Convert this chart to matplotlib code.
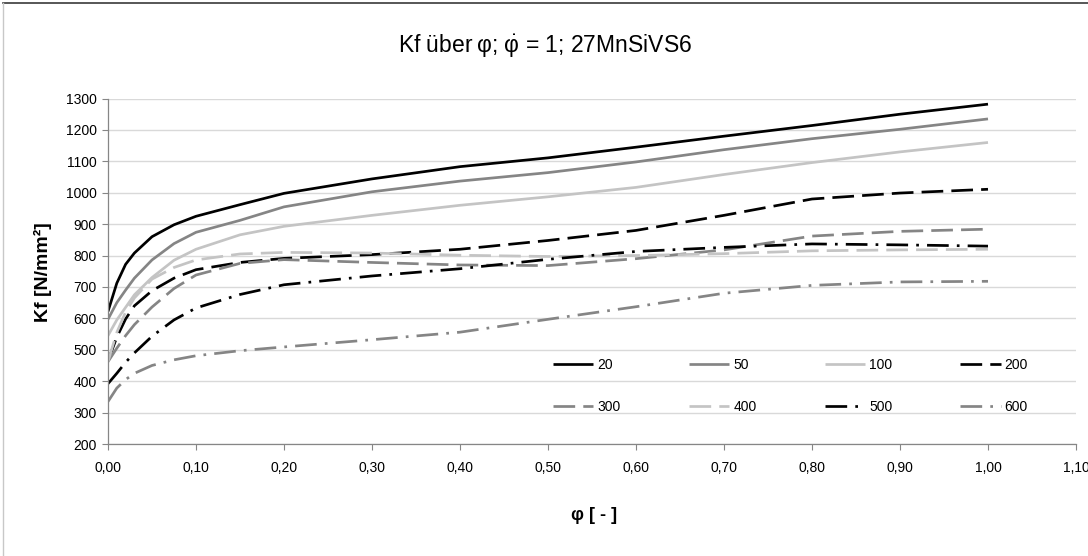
import matplotlib
matplotlib.use("Agg")
import matplotlib.pyplot as plt
from matplotlib.lines import Line2D

plt.rcParams['font.family'] = ['Liberation Sans', 'DejaVu Sans']
plt.rcParams['mathtext.fontset'] = 'custom'
plt.rcParams['mathtext.rm'] = 'Liberation Sans'
plt.rcParams['mathtext.it'] = 'Liberation Sans:italic'
plt.rcParams['mathtext.bf'] = 'Liberation Sans:bold'

# ---- data -------------------------------------------------------------
phi = [0.0, 0.01, 0.02, 0.03, 0.05, 0.075, 0.1, 0.15, 0.2, 0.3, 0.4,
       0.5, 0.6, 0.7, 0.8, 0.9, 1.0]

kf_20 = [622, 712, 772, 808, 860, 898, 925, 962, 998, 1044, 1083,
         1111, 1145, 1180, 1214, 1250, 1282]
kf_50 = [597, 650, 690, 728, 786, 838, 874, 912, 955, 1003, 1037,
         1064, 1098, 1137, 1172, 1202, 1235]
kf_100 = [545, 595, 635, 675, 730, 785, 820, 866, 893, 928, 960,
          987, 1017, 1058, 1096, 1130, 1160]
kf_200 = [465, 540, 598, 640, 688, 728, 755, 778, 791, 803, 820,
          848, 880, 928, 980, 999, 1011]
kf_300 = [462, 505, 545, 580, 636, 695, 738, 775, 787, 778, 770,
          768, 790, 818, 862, 877, 884]
kf_400 = [462, 555, 620, 665, 725, 762, 786, 805, 810, 808, 801,
          797, 800, 806, 815, 818, 820]
kf_500 = [392, 425, 460, 490, 543, 595, 633, 676, 707, 735, 758,
          788, 813, 826, 837, 834, 830]
kf_600 = [335, 378, 405, 425, 450, 468, 481, 497, 509, 532, 556,
          597, 637, 680, 705, 716, 718]

series_labels = ['20', '50', '100', '200', '300', '400', '500', '600']
series_values = [kf_20, kf_50, kf_100, kf_200, kf_300, kf_400, kf_500, kf_600]

x_ticks = [0.0, 0.1, 0.2, 0.3, 0.4, 0.5, 0.6, 0.7, 0.8, 0.9, 1.0, 1.1]
x_tick_labels = ['0,00', '0,10', '0,20', '0,30', '0,40', '0,50', '0,60',
                 '0,70', '0,80', '0,90', '1,00', '1,10']
y_ticks = [200, 300, 400, 500, 600, 700, 800, 900, 1000, 1100, 1200, 1300]

title = 'Kf über\u2009φ; $\\dot{\\mathrm{φ}}$ = 1; 27MnSiVS6'
x_label = 'φ [ - ]'
y_label = 'Kf [N/mm²]'

# ---- styles -----------------------------------------------------------
BLACK, GRAY, LIGHT = '#000000', '#858585', '#c4c4c4'
DASH = (0, (8, 3))
DASHDOT = (0, (8, 3, 1, 3))
styles = [
    (BLACK, '-'), (GRAY, '-'), (LIGHT, '-'),
    (BLACK, DASH), (GRAY, DASH), (LIGHT, DASH),
    (BLACK, DASHDOT), (GRAY, DASHDOT),
]

W, H = 1088, 556
fig = plt.figure(figsize=(W / 100, H / 100), dpi=100)
L, R, T, B = 108, 1076, 98.5, 444
ax = fig.add_axes([L / W, 1 - B / H, (R - L) / W, (B - T) / H])

handles = []
for lab, vals, (c, ls) in zip(series_labels, series_values, styles):
    h, = ax.plot(phi, vals, color=c, linestyle=ls, linewidth=1.95,
                 label=lab, solid_capstyle='butt', dash_capstyle='butt')
    handles.append(h)

ax.set_xlim(0, 1.1)
ax.set_ylim(200, 1300)
ax.set_xticks(x_ticks)
ax.set_xticklabels(x_tick_labels)
ax.set_yticks(y_ticks)
ax.tick_params(axis='both', labelsize=10, length=4, width=0.8,
               color='#868686', direction='out', pad=4)
ax.tick_params(axis='x', pad=8)
ax.grid(axis='y', color='#d9d9d9', linewidth=1.0)
ax.set_axisbelow(True)
for s in ('top', 'right'):
    ax.spines[s].set_visible(False)
for s in ('left', 'bottom'):
    ax.spines[s].set_color('#868686')
    ax.spines[s].set_linewidth(0.9)

fig.text(545 / W, 1 - 46 / H, title, ha='center', va='center', fontsize=16.5)
fig.text(43 / W, 1 - 272 / H, y_label, ha='center', va='center',
         rotation=90, fontsize=14, fontweight='bold')
fig.text(594 / W, 1 - 515 / H, x_label, ha='center', va='center',
         fontsize=13, fontweight='bold')

# legend, row-major order
order = [0, 4, 1, 5, 2, 6, 3, 7]
leg = fig.legend([handles[i] for i in order], [series_labels[i] for i in order],
                 ncol=4, loc='upper left',
                 bbox_to_anchor=(553 / W, 1 - 358 / H),
                 frameon=False, fontsize=10, handlelength=2.9,
                 handletextpad=0.3, columnspacing=4.9, labelspacing=2.0,
                 borderpad=0, borderaxespad=0)

# chart-area border
fig.add_artist(Line2D([3 / W, 1], [1 - 3 / H, 1 - 3 / H],
                      transform=fig.transFigure, color='#3a3a3a', linewidth=1.2))
fig.add_artist(Line2D([3 / W, 3 / W], [0, 1 - 3 / H],
                      transform=fig.transFigure, color='#c8c8c8', linewidth=1.0))

fig.savefig('out.png', dpi=100)
